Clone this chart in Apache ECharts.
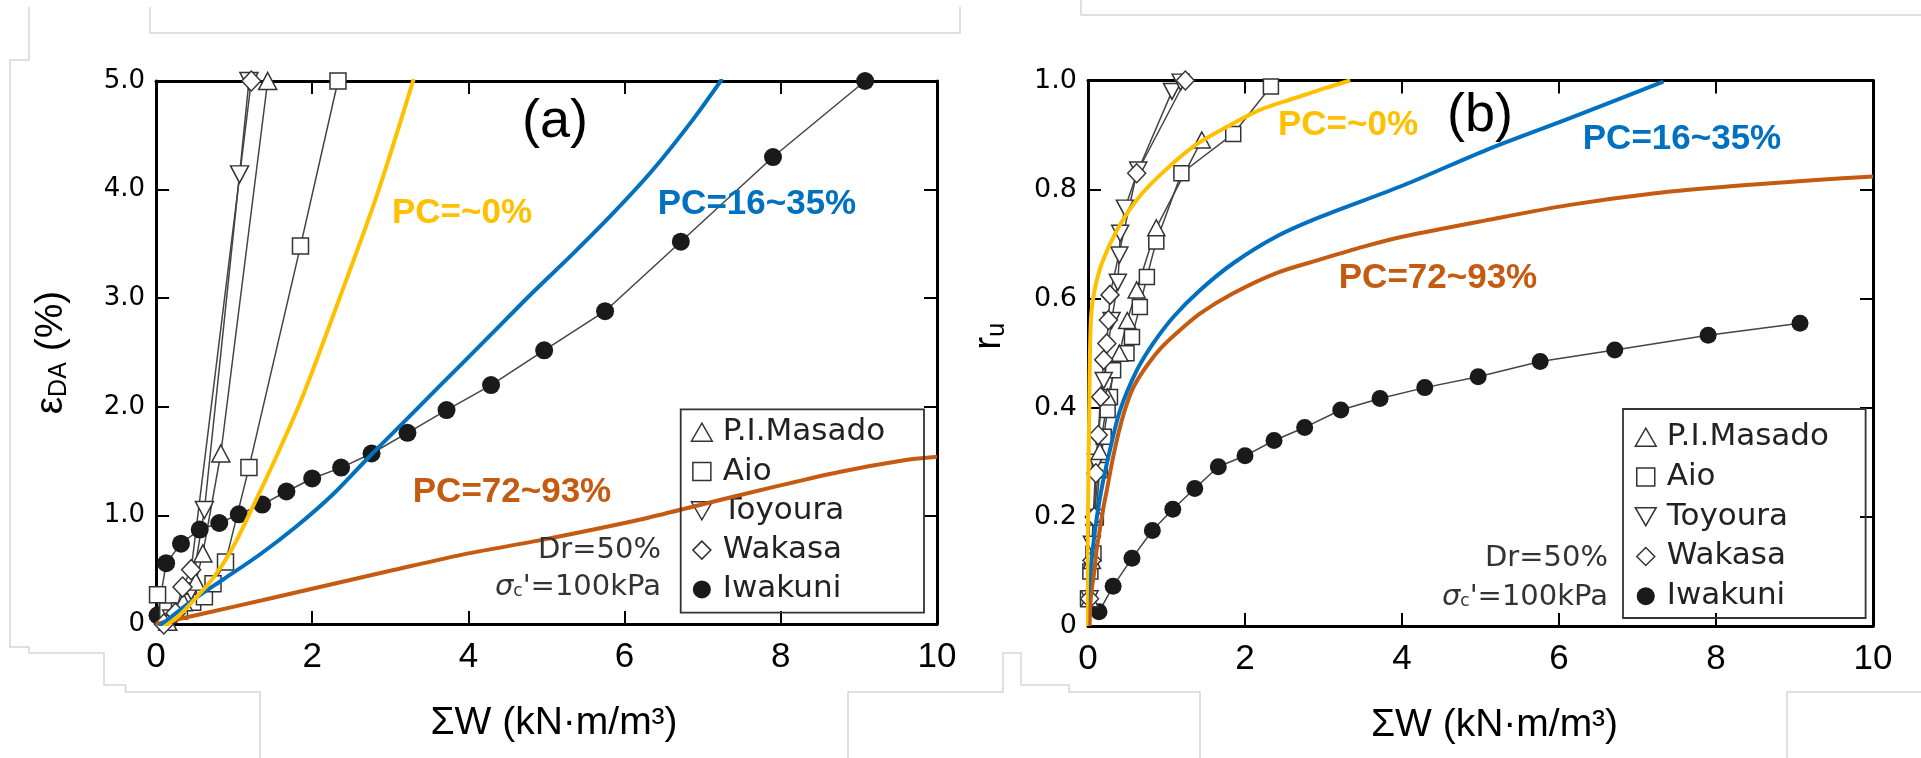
<!DOCTYPE html>
<html>
<head>
<meta charset="utf-8">
<script src="https://cdn.jsdelivr.net/npm/echarts@6/dist/echarts.min.js"></script>
<style>
html,body{margin:0;padding:0;background:#fff;}
#chart{width:1921px;height:758px;}
</style>
</head>
<body>
<div id="chart"></div>
<script>
// ---------- DATA ----------
// Panel (a): epsilon_DA (%) vs sum W
const xTicksA = [0, 2, 4, 6, 8, 10];
const yTicksA = [0, 1, 2, 3, 4, 5];
const masadoAX  = [0.15, 0.35, 0.51, 0.60, 0.83, 1.43];
const masadoAY  = [0.02, 0.20, 0.39, 0.65, 1.57, 5.00];
const aioAX     = [0.02, 0.15, 0.30, 0.47, 0.62, 0.73, 0.89, 1.19, 1.85, 2.33];
const aioAY     = [0.27, 0.12, 0.12, 0.20, 0.25, 0.37, 0.57, 1.44, 3.48, 5.00];
const toyouraAX = [0.20, 0.45, 0.62, 1.07, 1.19];
const toyouraAY = [0.05, 0.30, 1.05, 4.14, 5.00];
const wakasaAX  = [0.10, 0.25, 0.34, 0.45, 1.22];
const wakasaAY  = [0.00, 0.10, 0.34, 0.50, 5.00];
const iwakuniAX = [0.02, 0.13, 0.32, 0.56, 0.81, 1.06, 1.36, 1.67, 2.00, 2.37, 2.76, 3.22, 3.72, 4.29, 4.97, 5.75, 6.72, 7.90, 9.08];
const iwakuniAY = [0.08, 0.56, 0.74, 0.87, 0.93, 1.01, 1.10, 1.22, 1.34, 1.44, 1.57, 1.76, 1.97, 2.20, 2.52, 2.88, 3.52, 4.30, 5.00];
const pc0AX   = [0.08, 0.30, 0.51, 0.73, 0.98, 1.24, 1.54, 1.88, 2.35, 2.82, 3.30];
const pc0AY   = [-0.04, 0.08, 0.24, 0.42, 0.70, 1.08, 1.54, 2.10, 3.00, 3.93, 5.02];
const pc16AX  = [0.04, 0.22, 0.51, 0.86, 1.33, 1.80, 2.26, 2.73, 3.16, 3.63, 4.31, 4.82, 5.34, 5.85, 6.36, 6.87, 7.25];
const pc16AY  = [-0.02, 0.08, 0.24, 0.41, 0.64, 0.90, 1.19, 1.54, 1.85, 2.19, 2.68, 3.05, 3.41, 3.78, 4.18, 4.64, 5.02];
const pc72AX  = [0.00, 1.00, 2.00, 3.00, 4.00, 4.91, 6.19, 7.04, 7.90, 8.75, 9.60, 10.0];
const pc72AY  = [0.00, 0.16, 0.325, 0.49, 0.65, 0.77, 0.96, 1.11, 1.26, 1.40, 1.51, 1.54];

// Panel (b): r_u vs sum W
const xTicksB = [0, 2, 4, 6, 8, 10];
const yTicksB = [0, 0.2, 0.4, 0.6, 0.8, 1.0];
const masadoBX  = [0.02, 0.05, 0.08, 0.15, 0.25, 0.40, 0.50, 0.62, 0.87, 1.45];
const masadoBY  = [0.05, 0.12, 0.20, 0.32, 0.42, 0.50, 0.56, 0.616, 0.73, 0.891];
const aioBX     = [0.00, 0.03, 0.07, 0.10, 0.15, 0.20, 0.25, 0.28, 0.32, 0.49, 0.56, 0.66, 0.75, 0.87, 1.19, 1.85, 2.33];
const aioBY     = [0.05, 0.10, 0.133, 0.20, 0.286, 0.347, 0.396, 0.42, 0.469, 0.50, 0.53, 0.585, 0.64, 0.705, 0.83, 0.902, 0.989];
const toyouraBX = [0.02, 0.05, 0.10, 0.20, 0.30, 0.38, 0.40, 0.41, 0.47, 0.64, 1.07, 1.18];
const toyouraBY = [0.05, 0.15, 0.30, 0.45, 0.56, 0.63, 0.68, 0.72, 0.766, 0.836, 0.98, 0.997];
const wakasaBX  = [0.02, 0.05, 0.08, 0.10, 0.13, 0.16, 0.20, 0.24, 0.26, 0.28, 0.62, 1.24];
const wakasaBY  = [0.05, 0.12, 0.20, 0.28, 0.35, 0.42, 0.488, 0.518, 0.561, 0.607, 0.83, 1.00];
const iwakuniBX = [0.14, 0.32, 0.56, 0.82, 1.08, 1.36, 1.66, 2.00, 2.37, 2.76, 3.22, 3.72, 4.29, 4.97, 5.76, 6.71, 7.90, 9.07];
const iwakuniBY = [0.026, 0.073, 0.124, 0.175, 0.214, 0.252, 0.292, 0.312, 0.34, 0.364, 0.396, 0.417, 0.437, 0.457, 0.485, 0.506, 0.533, 0.555];
const pc0BX   = [-0.02, 0.00, 0.02, 0.04, 0.09, 0.19, 0.37, 0.62, 0.92, 1.34, 1.77, 2.19, 2.62, 3.00, 3.34];
const pc0BY   = [0.00, 0.20, 0.45, 0.57, 0.62, 0.67, 0.726, 0.781, 0.827, 0.879, 0.915, 0.946, 0.967, 0.985, 1.00];
const pc16BX  = [-0.02, -0.01, 0.03, 0.09, 0.17, 0.28, 0.41, 0.62, 0.83, 1.09, 1.43, 1.85, 2.40, 2.96, 4.02, 5.08, 6.14, 7.33];
const pc16BY  = [0.00, 0.04, 0.10, 0.176, 0.249, 0.323, 0.396, 0.468, 0.518, 0.567, 0.616, 0.665, 0.714, 0.75, 0.808, 0.873, 0.931, 0.998];
const pc72BX  = [0.02, 0.03, 0.05, 0.08, 0.11, 0.15, 0.20, 0.24, 0.29, 0.34, 0.40, 0.47, 0.56, 0.66, 0.78, 0.92, 1.13, 1.43, 1.85, 2.40, 2.96, 3.50, 4.02, 5.08, 6.14, 7.20, 8.26, 9.32, 10.0];
const pc72BY  = [0.00, 0.04, 0.07, 0.10, 0.14, 0.176, 0.22, 0.249, 0.288, 0.323, 0.36, 0.396, 0.432, 0.458, 0.483, 0.508, 0.537, 0.573, 0.61, 0.647, 0.672, 0.695, 0.714, 0.744, 0.772, 0.793, 0.807, 0.818, 0.824];

const legendNames = ['P.I.Masado', 'Aio', 'Toyoura', 'Wakasa', 'Iwakuni'];

// ---------- STYLE ----------
const SANS = "'Liberation Sans', Arial, Helvetica, sans-serif";
const DV = "'DejaVu Sans', sans-serif";
const C_YEL = '#FFC000', C_BLU = '#0070C0', C_ORA = '#C55A11';
const LINE_K = '#444';

function pts(xs, ys) { return xs.map((x, i) => [x, ys[i]]); }

function xAxisPair(grid, ticks, nameShift) {
  const min = ticks[0], max = ticks[ticks.length - 1], interval = ticks[1] - ticks[0];
  const base = {
    gridIndex: grid, type: 'value', min, max, interval,
    axisLine: { show: true, onZero: false, lineStyle: { color: '#000', width: 3 } },
    axisTick: { show: true, inside: true, length: 13, lineStyle: { color: '#000', width: 2 } },
    splitLine: { show: false }
  };
  return [
    Object.assign({}, base, {
      position: 'bottom',
      axisLabel: { fontSize: 35, fontFamily: SANS, color: '#000', margin: 16 },
      name: 'ΣW (kN·m/m³)', nameLocation: 'middle', nameGap: 80,
      nameTextStyle: { fontSize: 39, fontFamily: SANS, color: '#000', padding: [0, 0, 0, nameShift] }
    }),
    Object.assign({}, base, { position: 'top', axisLabel: { show: false } })
  ];
}

function yAxisPair(grid, ticks, fmt, labelSize, name, nameGap, nameShift) {
  const min = ticks[0], max = ticks[ticks.length - 1];
  const interval = +(ticks[1] - ticks[0]).toFixed(6);
  const base = {
    gridIndex: grid, type: 'value', min, max, interval,
    axisLine: { show: true, onZero: false, lineStyle: { color: '#000', width: 3 } },
    axisTick: { show: true, inside: true, length: 13, lineStyle: { color: '#000', width: 2 } },
    splitLine: { show: false }
  };
  return [
    Object.assign({}, base, {
      position: 'left',
      axisLabel: { fontSize: labelSize, fontFamily: DV, color: '#000', margin: 11, formatter: fmt },
      name: name, nameLocation: 'middle', nameGap: nameGap,
      nameTextStyle: {
        color: '#000', padding: [0, 0, 0, nameShift],
        rich: {
          e: { fontSize: 39, fontFamily: SANS, color: '#000' },
          s: { fontSize: 25, fontFamily: SANS, color: '#000', padding: [16, 0, 0, 0] },
          n: { fontSize: 39, fontFamily: SANS, color: '#000' }
        }
      }
    }),
    Object.assign({}, base, { position: 'right', axisLabel: { show: false } })
  ];
}

const xAxes = xAxisPair(0, xTicksA, 15).concat(xAxisPair(1, xTicksB, 28));
const yAxes = yAxisPair(0, yTicksA, v => v === 0 ? '0' : v.toFixed(1), 26, '{e|ε}{s|DA}{n| (%)}', 84, 0)
  .concat(yAxisPair(1, yTicksB, v => v === 0 ? '0' : v.toFixed(1), 27, '{e|r}{s|u}', 78, 34));

function markerSeries(name, xs, ys, panel, symbol, size, rotate, filled) {
  return {
    name, type: 'line', xAxisIndex: panel * 2, yAxisIndex: panel * 2,
    data: pts(xs, ys), symbol, symbolSize: size, symbolRotate: rotate || 0, showAllSymbol: true,
    lineStyle: { color: LINE_K, width: 1.5 },
    itemStyle: filled ? { color: '#1a1a1a', borderColor: '#1a1a1a', borderWidth: 0 }
                      : { color: '#fff', borderColor: '#333', borderWidth: 1.5 },
    z: 3, animation: false, clip: false
  };
}
function curveSeries(name, xs, ys, panel, color) {
  return {
    name, type: 'line', xAxisIndex: panel * 2, yAxisIndex: panel * 2,
    data: pts(xs, ys), showSymbol: false, symbol: 'none', smooth: 0.3,
    lineStyle: { color, width: 4 }, itemStyle: { color },
    z: 5, animation: false, clip: true
  };
}

const series = [
  markerSeries('Iwakuni', iwakuniAX, iwakuniAY, 0, 'circle', 18, 0, true),
  markerSeries('Aio', aioAX, aioAY, 0, 'rect', 16),
  markerSeries('Toyoura', toyouraAX, toyouraAY, 0, 'triangle', [18, 17], 180),
  markerSeries('P.I.Masado', masadoAX, masadoAY, 0, 'triangle', [18, 17]),
  markerSeries('Wakasa', wakasaAX, wakasaAY, 0, 'diamond', [19, 20]),
  curveSeries('PC=72~93% (a)', pc72AX, pc72AY, 0, C_ORA),
  curveSeries('PC=16~35% (a)', pc16AX, pc16AY, 0, C_BLU),
  curveSeries('PC=~0% (a)', pc0AX, pc0AY, 0, C_YEL),

  markerSeries('Iwakuni', iwakuniBX, iwakuniBY, 1, 'circle', 17, 0, true),
  markerSeries('Aio', aioBX, aioBY, 1, 'rect', 15),
  markerSeries('Toyoura', toyouraBX, toyouraBY, 1, 'triangle', [17, 16], 180),
  markerSeries('P.I.Masado', masadoBX, masadoBY, 1, 'triangle', [17, 16]),
  markerSeries('Wakasa', wakasaBX, wakasaBY, 1, 'diamond', [18, 19]),
  curveSeries('PC=72~93% (b)', pc72BX, pc72BY, 1, C_ORA),
  curveSeries('PC=16~35% (b)', pc16BX, pc16BY, 1, C_BLU),
  curveSeries('PC=~0% (b)', pc0BX, pc0BY, 1, C_YEL)
];

const icons = {
  'P.I.Masado': 'path://M10,0L20,17.3L0,17.3Z',
  'Aio': 'path://M0,0H16V16H0Z',
  'Toyoura': 'path://M0,0L20,0L10,17.3Z',
  'Wakasa': 'path://M10,0L20,10L10,20L0,10Z',
  'Iwakuni': 'path://M10,0A10,10,0,1,1,10,20A10,10,0,1,1,10,0Z'
};
function legendData() {
  return legendNames.map(n => ({
    name: n, icon: icons[n],
    itemStyle: n === 'Iwakuni' ? { color: '#1a1a1a', borderColor: '#1a1a1a', borderWidth: 0 }
                               : { color: '#fff', borderColor: '#333', borderWidth: 1.5 }
  }));
}
function legendAt(left, top, gap) {
  return {
    data: legendData(), orient: 'vertical', left, top, itemWidth: 32, itemHeight: 18, itemGap: gap,
    padding: 0, selectedMode: false,
    textStyle: { fontSize: 31, fontFamily: DV, color: '#222', lineHeight: 30 }
  };
}

function txt(text, x, y, color, size, weight, align, family) {
  return { type: 'text', z: 20, style: { text, x, y, fill: color, fontSize: size, fontWeight: weight || 'normal',
           fontFamily: family || SANS, align: align || 'center', verticalAlign: 'middle' } };
}
function sigmaTxt(x, y) {
  return { type: 'text', z: 20, style: {
    text: '{g|σ}{s|c}{n|\'=100kPa}', x, y, align: 'right', verticalAlign: 'middle',
    rich: {
      g: { fontSize: 29, fontFamily: DV, fontStyle: 'italic', fill: '#333' },
      s: { fontSize: 17, fontFamily: DV, fill: '#333', padding: [10, 0, 0, 0] },
      n: { fontSize: 29, fontFamily: DV, fill: '#333' }
    } } };
}
function faint(points) {
  return { type: 'polyline', z: 0, silent: true, shape: { points }, style: { stroke: '#d6d6d6', lineWidth: 1.5, fill: null } };
}
function box(x, y, w, h) {
  return { type: 'rect', z: 10, shape: { x, y, width: w, height: h }, style: { fill: null, stroke: '#333', lineWidth: 1.8 } };
}

const graphic = [
  faint([[29, 7], [29, 60], [10, 60], [10, 647], [29, 647], [29, 653], [104, 653], [104, 685], [125.5, 685], [125.5, 692], [260, 692], [260, 758]]),
  faint([[150, 7], [150, 33], [960, 33], [960, 7]]),
  faint([[848, 758], [848, 692], [1003, 692], [1003, 653], [1021, 653], [1021, 685], [1069, 685], [1069, 692], [1200, 692], [1200, 758]]),
  faint([[1081, 0], [1081, 15], [1921, 15]]),
  faint([[1787, 758], [1787, 692], [1921, 692]]),
  box(680.7, 409.3, 243.3, 203.4),
  box(1623, 409, 242.6, 209),
  txt('(a)', 555, 122, '#000', 54),
  txt('(b)', 1480, 116, '#000', 54),
  txt('PC=~0%', 462, 213, C_YEL, 35, 'bold'),
  txt('PC=16~35%', 757, 204, C_BLU, 35, 'bold'),
  txt('PC=72~93%', 512, 492, C_ORA, 35, 'bold'),
  txt('PC=~0%', 1348, 125, C_YEL, 35, 'bold'),
  txt('PC=16~35%', 1682, 139, C_BLU, 35, 'bold'),
  txt('PC=72~93%', 1438, 278, C_ORA, 35, 'bold'),
  txt('Dr=50%', 661, 550, '#333', 29, 'normal', 'right', DV),
  sigmaTxt(661, 587),
  txt('Dr=50%', 1608, 558, '#333', 29, 'normal', 'right', DV),
  sigmaTxt(1608, 597)
];

const option = {
  backgroundColor: '#fff',
  animation: false,
  grid: [
    { left: 156, top: 81, width: 781, height: 543, containLabel: false },
    { left: 1088, top: 80.5, width: 785, height: 545.5, containLabel: false }
  ],
  xAxis: xAxes,
  yAxis: yAxes,
  legend: [legendAt(690.7, 416.7, 8.3), legendAt(1634.6, 421.7, 8.75)],
  series,
  graphic
};

const chart = echarts.init(document.getElementById('chart'), null, { renderer: 'canvas' });
chart.setOption(option);
</script>
</body>
</html>
